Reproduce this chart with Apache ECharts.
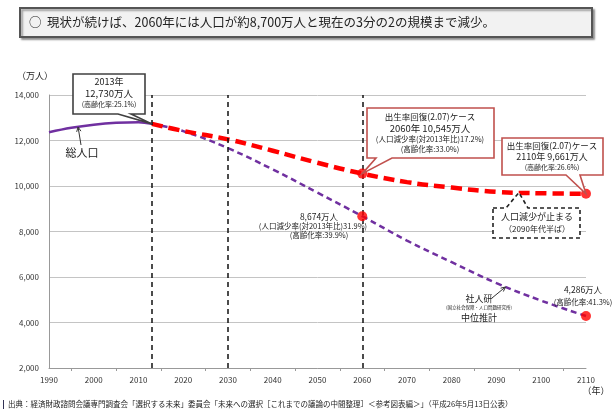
<!DOCTYPE html>
<html>
<head>
<meta charset="utf-8">
<script src="https://cdn.jsdelivr.net/npm/echarts@6/dist/echarts.min.js"></script>
<style>
  html, body { margin: 0; padding: 0; background: #fff; }
  #chart { width: 612px; height: 410px; }
</style>
</head>
<body>
<div id="chart"></div>
<script>
// actual total population (万人)
const totalYears = [1990, 1995, 2000, 2005, 2010, 2013];
const totalPop = [12361, 12557, 12693, 12777, 12806, 12730];
// projections
const projYears = [2013, 2020, 2030, 2040, 2050, 2060, 2070, 2080, 2090, 2100, 2110];
const ipssMedian = [12730, 12410, 11662, 10728, 9708, 8674, 7600, 6650, 5730, 4960, 4286];
const recovery = [12730, 12420, 12050, 11550, 11020, 10545, 10170, 9930, 9740, 9680, 9661];
// highlighted points
const dotYears = [2060, 2060, 2110, 2110];
const dotValues = [10545, 8674, 9661, 4286];
const markYears = [2013, 2030, 2060];

const FONT = '"Noto Sans CJK JP", sans-serif';
const PURPLE = '#7030a0';
const RED = '#ff0000';

const zip = (xs, ys) => xs.map((x, i) => [x, ys[i]]);

const chart = echarts.init(document.getElementById('chart'));

const option = {
    animation: false,
    textStyle: { fontFamily: FONT },
    grid: { left: 49, right: 26, top: 95, bottom: 42 },
    xAxis: {
        type: 'value',
        min: 1990, max: 2110, interval: 10,
        axisLine: { lineStyle: { color: '#999', width: 1 } },
        axisTick: { show: false },
        minorTick: { show: true, splitNumber: 2, length: 3, lineStyle: { color: '#999' } },
        axisLabel: { color: '#333', fontSize: 8, margin: 8, formatter: v => String(v) },
        splitLine: { show: false }
    },
    yAxis: {
        type: 'value',
        min: 2000, max: 14000, interval: 2000,
        axisLine: { show: true, lineStyle: { color: '#999', width: 1 } },
        axisTick: { show: false },
        axisLabel: {
            color: '#333', fontSize: 8, margin: 10,
            formatter: v => v.toLocaleString('en-US')
        },
        splitLine: { lineStyle: { color: '#c4c4c4', width: 1 } }
    },
    series: [
        {
            name: '総人口',
            type: 'line',
            data: zip(totalYears, totalPop),
            smooth: 0.4,
            symbol: 'none',
            lineStyle: { color: PURPLE, width: 2.5 },
            markLine: {
                silent: true,
                symbol: 'none',
                label: { show: false },
                lineStyle: { color: '#111', width: 1.5, type: [5, 4] },
                data: markYears.map(y => ({ xAxis: y }))
            },
            z: 3
        },
        {
            name: '中位推計',
            type: 'line',
            data: zip(projYears, ipssMedian),
            smooth: 0.4,
            symbol: 'none',
            lineStyle: { color: PURPLE, width: 2.5, type: [6, 4] },
            z: 3
        },
        {
            name: '出生率回復',
            type: 'line',
            data: zip(projYears, recovery),
            smooth: 0.4,
            symbol: 'none',
            lineStyle: { color: RED, width: 4.5, type: [11, 6] },
            z: 4
        },
        {
            type: 'scatter',
            data: zip(dotYears, dotValues),
            symbolSize: 10,
            itemStyle: { color: RED },
            z: 5
        }
    ]
};
chart.setOption(option);

const px = (x, y) => chart.convertToPixel({ gridIndex: 0 }, [x, y]);

// callout box outline with a pointer notch
function callout(x0, y0, x1, y1, side, b1, b2, tip, stroke, dash) {
    let pts;
    if (side === 'bottom') {
        pts = [[x0, y0], [x1, y0], [x1, y1], [b2, y1], tip, [b1, y1], [x0, y1]];
    } else {
        pts = [[x0, y0], [b1, y0], tip, [b2, y0], [x1, y0], [x1, y1], [x0, y1]];
    }
    return {
        type: 'polygon',
        shape: { points: pts },
        style: { fill: '#fff', stroke: stroke, lineWidth: 1.6, lineDash: dash || null },
        z: 20
    };
}

function txt(x, y, s, size, align) {
    return {
        type: 'text',
        x: x, y: y,
        style: {
            text: s, fontSize: size, fontFamily: FONT, fill: '#222',
            align: align || 'center', verticalAlign: 'middle'
        },
        z: 30
    };
}

function arrow(from, to, color) {
    const ang = Math.atan2(to[1] - from[1], to[0] - from[0]);
    const h = 5, a = 0.45;
    const p1 = [to[0] - h * Math.cos(ang - a), to[1] - h * Math.sin(ang - a)];
    const p2 = [to[0] - h * Math.cos(ang + a), to[1] - h * Math.sin(ang + a)];
    return [
        { type: 'line', shape: { x1: from[0], y1: from[1], x2: to[0], y2: to[1] },
          style: { stroke: color, lineWidth: 1 }, z: 25 },
        { type: 'polyline', shape: { points: [p1, to, p2] },
          style: { stroke: color, lineWidth: 1, fill: null }, z: 25 }
    ];
}

const tip2013 = px(2013, 12730);
const tip2060 = px(2060, 10545);
const tip2110 = px(2110, 9661);
const tipStop = px(2095, 9710);
const tipTotal = px(1996.5, 12590);
const tipIpss = px(2092, 5560);

const graphics = [
    // headline box
    {
        type: 'rect',
        shape: { x: 20, y: 8, width: 572, height: 29 },
        style: { fill: '#f2f2f2', stroke: '#555', lineWidth: 2,
                 shadowColor: 'rgba(0,0,0,0.35)', shadowOffsetX: 2, shadowOffsetY: 2, shadowBlur: 2 },
        z: 10
    },
    txt(29, 22.5, '○  現状が続けば、2060年には人口が約8,700万人と現在の3分の2の規模まで減少。', 12.5, 'left'),
    // unit labels
    txt(35, 76, '（万人）', 9),
    txt(596, 391, '（年）', 9),
    // source
    { type: 'rect', shape: { x: 3, y: 400, width: 1, height: 9 }, style: { fill: '#335' }, z: 10 },
    txt(8, 404, '出典：経済財政諮問会議専門調査会「選択する未来」委員会「未来への選択［これまでの議論の中間整理］＜参考図表編＞」（平成26年5月13日公表）', 7.5, 'left'),

    // 2013 callout
    callout(73, 74, 145, 114, 'bottom', 118, 131, tip2013, '#404040'),
    txt(109, 82, '2013年', 9),
    txt(109, 93, '12,730万人', 9.5),
    txt(109, 104, '(高齢化率:25.1%)', 7),

    // 2060 recovery callout
    callout(367, 108, 494, 158, 'bottom', 376, 392, tip2060, '#c0504d'),
    txt(430, 117, '出生率回復(2.07)ケース', 8.5),
    txt(430, 128, '2060年 10,545万人', 9.5),
    txt(430, 139, '(人口減少率(対2013年比)17.2%)', 7.5),
    txt(430, 149, '(高齢化率:33.0%)', 7.5),

    // 2110 recovery callout
    callout(502, 138, 603, 175, 'bottom', 566, 580, tip2110, '#c0504d'),
    txt(552, 146, '出生率回復(2.07)ケース', 8.5),
    txt(552, 157, '2110年 9,661万人', 9),
    txt(552, 167, '(高齢化率:26.6%)', 7),

    // population stops falling
    callout(493, 208, 580, 238, 'top', 506, 528, tipStop, '#222', [4, 3]),
    txt(537, 217, '人口減少が止まる', 9),
    txt(537, 229, '（2090年代半ば）', 8),

    // 2060 median text
    txt(319, 217, '8,674万人', 8.5),
    txt(313, 226, '(人口減少率(対2013年比)31.9%)', 7.5),
    txt(319, 235, '(高齢化率:39.9%)', 7.5),

    // 2110 median text
    txt(583, 290, '4,286万人', 8.5),
    txt(583, 302, '(高齢化率:41.3%)', 7.5),

    // labels with arrows
    txt(82, 153, '総人口', 11),
    ...arrow([81, 145], tipTotal, '#333'),
    txt(479, 299, '社人研', 9),
    txt(479, 307.5, '(国立社会保障・人口問題研究所)', 4.5),
    txt(479, 318, '中位推計', 9),
    ...arrow([492, 298], tipIpss, '#333')
];

chart.setOption({ graphic: graphics });
</script>
</body>
</html>
